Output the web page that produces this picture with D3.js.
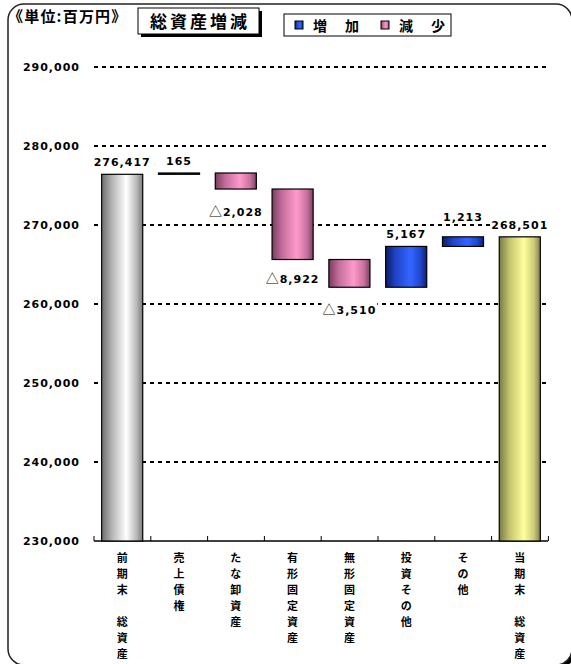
<!DOCTYPE html>
<html>
<head>
<meta charset="utf-8">
<script src="https://cdn.jsdelivr.net/npm/d3@7"></script>
<style>
  body { margin: 0; background: #fff; }
  svg { display: block; }
  text { font-family: "DejaVu Sans", "Noto Sans CJK JP", sans-serif; fill: #000; }
  .jp { font-family: "Noto Sans CJK JP", sans-serif; }
</style>
</head>
<body>
<svg id="chart" width="571" height="664"></svg>
<script>
// data
const categories = ["前期末　総資産", "売上債権", "たな卸資産", "有形固定資産", "無形固定資産", "投資その他", "その他", "当期末　総資産"];
const amounts = [276417, 165, -2028, -8922, -3510, 5167, 1213, 268501];
const kinds = ["start", "change", "change", "change", "change", "change", "change", "end"];
const yTicks = [230000, 240000, 250000, 260000, 270000, 280000, 290000];
const legendItems = [{ key: "up", label: "増　加" }, { key: "down", label: "減　少" }];
const titleText = "総資産増減";
const unitText = "《単位:百万円》";

// layout
const margin = { left: 94, right: 23, top: 67, bottom: 123 };
const width = 571, height = 664;
const labelShift = [0, 0, 0, -4, 0, 0, -8, 0]; // manual label nudges as in the original

const svg = d3.select("#chart");

// build waterfall rows
let running = 0;
const rows = categories.map((c, i) => {
  let y0, y1;
  if (kinds[i] === "change") {
    y0 = running;
    y1 = running + amounts[i];
    running = y1;
  } else {
    y0 = yTicks[0];
    y1 = amounts[i];
    running = amounts[i];
  }
  const key = kinds[i] === "change" ? (amounts[i] >= 0 ? "up" : "down") : kinds[i];
  return { cat: c, y0, y1, value: amounts[i], key, shift: labelShift[i] };
});

const xScale = d3.scaleBand()
  .domain(categories)
  .range([margin.left, 548])
  .paddingInner(0.277)
  .paddingOuter(0.135);

const yScale = d3.scaleLinear()
  .domain([yTicks[0], yTicks[yTicks.length - 1]])
  .range([height - margin.bottom, margin.top]);

// gradients
const grads = {
  start: ["#6e6e6e", "#b4b4b4", "#ffffff", "#b8b8b8", "#7a7a7a"],
  end: ["#7a7a48", "#c4c470", "#ffff9c", "#caca78", "#7e7e4c"],
  up: ["#0c1c68", "#1f44c8", "#3366ff", "#2146cc", "#0f2070"],
  down: ["#7a3d5e", "#c46e9c", "#ff99cc", "#c8729e", "#7e4262"]
};
const defs = svg.append("defs");
Object.entries(grads).forEach(([k, cols]) => {
  const g = defs.append("linearGradient").attr("id", "g-" + k)
    .attr("x1", 0).attr("x2", 1).attr("y1", 0).attr("y2", 0);
  [0, 0.25, 0.6, 0.85, 1].forEach((o, i) => {
    g.append("stop").attr("offset", o).attr("stop-color", cols[i]);
  });
});

// frame (mostly runs off the right/bottom edges, shadow shows in the corner)
svg.append("rect")
  .attr("x", 11).attr("y", 7).attr("width", 564).attr("height", 661)
  .attr("rx", 16).attr("fill", "#000");
svg.append("rect")
  .attr("x", 8).attr("y", 4).attr("width", 564).attr("height", 661)
  .attr("rx", 16).attr("fill", "#fff").attr("stroke", "#222").attr("stroke-width", 1.5);

// grid
svg.append("g").selectAll("line")
  .data(yTicks.slice(1))
  .join("line")
  .attr("x1", margin.left).attr("x2", 550)
  .attr("y1", d => yScale(d)).attr("y2", d => yScale(d))
  .attr("stroke", "#000").attr("stroke-width", 2)
  .attr("stroke-dasharray", "4,4");

// y tick labels
svg.append("g").selectAll("text")
  .data(yTicks)
  .join("text")
  .attr("x", 80).attr("y", d => yScale(d))
  .attr("dy", "0.36em")
  .attr("text-anchor", "end")
  .attr("font-size", 11).attr("font-weight", "bold")
  .attr("letter-spacing", 1)
  .text(d3.format(","));

// x axis
const x0 = xScale.range()[0], x1 = xScale.range()[1];
const yBase = yScale(yTicks[0]);
svg.append("line")
  .attr("x1", x0).attr("x2", x1).attr("y1", yBase).attr("y2", yBase)
  .attr("stroke", "#000").attr("stroke-width", 1.5);
const bounds = d3.range(categories.length + 1).map(i => x0 + i * xScale.step());
svg.append("g").selectAll("line")
  .data(bounds)
  .join("line")
  .attr("x1", d => d).attr("x2", d => d)
  .attr("y1", yBase).attr("y2", yBase - 5)
  .attr("stroke", "#000").attr("stroke-width", 1);

// bars
svg.append("g").selectAll("rect")
  .data(rows)
  .join("rect")
  .attr("x", d => xScale(d.cat))
  .attr("width", xScale.bandwidth())
  .attr("y", d => yScale(Math.max(d.y0, d.y1)))
  .attr("height", d => Math.abs(yScale(d.y0) - yScale(d.y1)))
  .attr("fill", d => `url(#g-${d.key})`)
  .attr("stroke", "#000").attr("stroke-width", 1.2);

// value labels, on a white backing so the grid stops at them
const fmt = d3.format(",");
const labels = svg.append("g").selectAll("g")
  .data(rows)
  .join("g");
const lt = labels.append("text")
  .attr("x", d => xScale(d.cat) + xScale.bandwidth() / 2)
  .attr("y", d => d.key === "down"
    ? yScale(Math.min(d.y0, d.y1)) + 27 + d.shift
    : yScale(Math.max(d.y0, d.y1)) - 8 + d.shift)
  .attr("text-anchor", "middle")
  .attr("font-size", 11).attr("font-weight", "bold")
  .attr("letter-spacing", 1);
lt.filter(d => d.key === "down").append("tspan")
  .attr("class", "jp").attr("font-weight", "normal").attr("font-size", 13)
  .text("△");
lt.append("tspan")
  .text(d => d.key === "down" ? fmt(-d.value) : fmt(d.value));
labels.each(function () {
  const t = d3.select(this).select("text");
  const b = t.node().getBBox();
  d3.select(this).insert("rect", "text")
    .attr("x", b.x - 1).attr("y", b.y + 2)
    .attr("width", b.width + 2).attr("height", b.height - 4)
    .attr("fill", "#fff");
});

// category labels, one character per text, stacked
const charData = rows.flatMap(d => Array.from(d.cat).map((ch, i) => ({
  ch, i, x: xScale(d.cat) + xScale.bandwidth() / 2
}))).filter(d => d.ch !== "　");
svg.append("g").selectAll("text")
  .data(charData)
  .join("text")
  .attr("class", "jp")
  .attr("text-anchor", "middle")
  .attr("font-size", 11).attr("font-weight", "bold")
  .attr("x", d => d.x)
  .attr("y", d => yBase + 21 + d.i * 16)
  .text(d => d.ch);

// unit
svg.append("text")
  .attr("class", "jp")
  .attr("x", 8).attr("y", 22)
  .attr("font-size", 15).attr("font-weight", "bold")
  .attr("letter-spacing", 1.2)
  .text(unitText);

// title box
svg.append("rect").attr("x", 141).attr("y", 11).attr("width", 121).attr("height", 26).attr("fill", "#000");
svg.append("rect").attr("x", 138).attr("y", 8).attr("width", 121).attr("height", 26)
  .attr("fill", "#fff").attr("stroke", "#000").attr("stroke-width", 1);
svg.append("text")
  .attr("class", "jp")
  .attr("x", 200).attr("y", 28)
  .attr("text-anchor", "middle")
  .attr("font-size", 17).attr("font-weight", "bold")
  .attr("letter-spacing", 3)
  .text(titleText);

// legend
const legend = svg.append("g").attr("transform", "translate(284,14)");
legend.append("rect").attr("width", 167).attr("height", 22)
  .attr("fill", "#fff").attr("stroke", "#000").attr("stroke-width", 1);
const li = legend.selectAll("g.item")
  .data(legendItems)
  .join("g").attr("class", "item")
  .attr("transform", (d, i) => `translate(${11 + i * 86},0)`);
li.append("rect")
  .attr("y", 7).attr("width", 8).attr("height", 8)
  .attr("fill", d => `url(#g-${d.key})`)
  .attr("stroke", "#000").attr("stroke-width", 1);
li.append("text")
  .attr("class", "jp")
  .attr("x", 18).attr("y", 16.5)
  .attr("font-size", 14).attr("font-weight", "bold")
  .attr("letter-spacing", 2)
  .text(d => d.label);
</script>
</body>
</html>
